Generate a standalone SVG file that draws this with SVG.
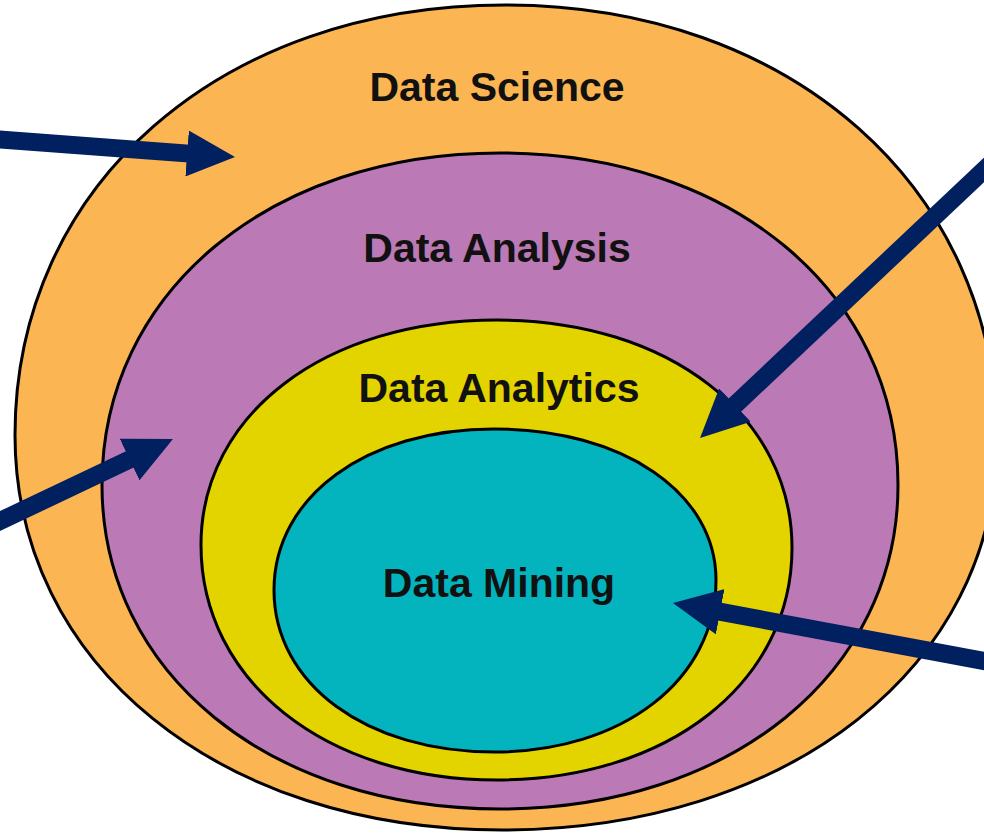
<svg xmlns="http://www.w3.org/2000/svg" width="984" height="833" viewBox="0 0 984 833">
  <style>
    .ring { stroke: #000; stroke-width: 3; }
    .lbl { font-family: "Liberation Sans", Arial, sans-serif; font-weight: bold; font-size: 41px; fill: #111; text-anchor: middle; }
    .arr { stroke: #002060; stroke-width: 18; fill: none; marker-end: url(#head); }
  </style>
  <defs>
    <marker id="head" viewBox="0 0 48 46" refX="2" refY="23" markerWidth="48" markerHeight="46" markerUnits="userSpaceOnUse" orient="auto">
      <path d="M0,0 L48,23 L0,46 Z" fill="#002060"/>
    </marker>
  </defs>
  <rect width="984" height="833" fill="#fff"/>
  <g id="data-science">
    <path class="ring" fill="#FBB552" d="M505,5 C790.4,5 997,187.7 997,440 C997,666.2 789.1,830 502,830 C219.5,830 15,664.1 15,435 C15,185.6 220.8,5 505,5 Z"/>
    <text class="lbl" x="497" y="101">Data Science</text>
  </g>
  <g id="data-analysis">
    <path class="ring" fill="#BB79B5" d="M500,153 C730.8,153 898,292.4 898,485 C898,672.9 730.8,809 500,809 C269.2,809 102,672.9 102,485 C102,292.4 269.2,153 500,153 Z"/>
    <text class="lbl" x="497" y="262">Data Analysis</text>
  </g>
  <g id="data-analytics">
    <path class="ring" fill="#E3D400" d="M497,320 C668.1,320 792,415.8 792,548 C792,682.6 668.1,780 497,780 C325.9,780 201,681.3 201,545 C201,413.5 325.9,320 497,320 Z"/>
    <text class="lbl" x="499" y="402">Data Analytics</text>
  </g>
  <g id="data-mining">
    <path class="ring" fill="#03B4BE" d="M494,429 C622.8,429 716,492.4 716,580 C716,679.8 622.8,752 494,752 C366.4,752 274,684 274,590 C274,496.6 366.4,429 494,429 Z"/>
    <text class="lbl" x="499" y="597">Data Mining</text>
  </g>
  <g id="connectors">
    <line class="arr" x1="-5" y1="139.1" x2="189.1" y2="153.6"/>
    <line class="arr" x1="-5" y1="523.4" x2="131.4" y2="458.7"/>
    <line class="arr" x1="990" y1="164.3" x2="733.5" y2="406.4"/>
    <line class="arr" x1="990" y1="662.1" x2="718.2" y2="611.4"/>
  </g>
</svg>
